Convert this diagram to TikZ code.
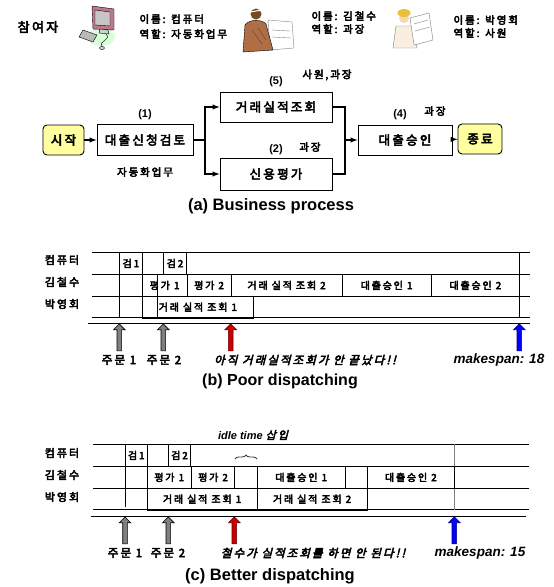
\documentclass[tikz,border=0pt]{standalone}
\usepackage{fontspec}
\setmainfont{Liberation Sans}
\newfontfamily\kr{Noto Sans CJK KR}[LetterSpace=18,
  BoldFont={Noto Sans CJK KR}, BoldFeatures={FakeBold=4},
  ItalicFont={Noto Sans CJK KR}, ItalicFeatures={FakeSlant=0.25},
  BoldItalicFont={Noto Sans CJK KR}, BoldItalicFeatures={FakeBold=4, FakeSlant=0.25}]
\usepackage{tikz}
\usetikzlibrary{calc}
\usetikzlibrary{shapes}
\usetikzlibrary{arrows}
\usetikzlibrary{fit,positioning}
\usetikzlibrary{decorations.pathreplacing}

\definecolor{termfill}{RGB}{255,255,160}
\definecolor{monitor}{RGB}{190,120,140}
\definecolor{suit}{RGB}{176,110,70}
\definecolor{skin}{RGB}{245,215,180}
\definecolor{hardhat}{RGB}{235,190,60}

\begin{document}
\begin{tikzpicture}[x=1pt,y=-1pt]
  \tikzstyle{proc}=[rectangle, draw=black, line width=0.9pt, fill=white, inner sep=0pt, font=\kr\bfseries\fontsize{12.5}{14}\selectfont]
  \tikzstyle{term}=[proc, rounded corners=4pt, fill=termfill]
  \tikzstyle{connect}=[-latex, line width=1.4pt]
  \tikzstyle{wire}=[line width=1.4pt]
  \tikzstyle{tag}=[font=\bfseries\fontsize{11}{13}\selectfont]
  \tikzstyle{role}=[font=\kr\bfseries\fontsize{10.5}{12}\selectfont]
  \tikzstyle{who}=[anchor=west, font=\kr\bfseries\fontsize{10.5}{12}\selectfont]
  \tikzstyle{row}=[font=\kr\bfseries\fontsize{11}{13}\selectfont]
  \tikzstyle{cell}=[rectangle, draw=black, line width=0.8pt, inner sep=0pt, anchor=north west, minimum height=22pt, font=\kr\bfseries\fontsize{10}{12}\selectfont]
  \tikzstyle{grid}=[line width=0.8pt]
  \tikzstyle{blockarrow}=[single arrow, shape border rotate=90, draw, line width=0.6pt, minimum height=27pt, minimum width=11pt, inner sep=2pt, single arrow head extend=3.5pt, anchor=tip]
  \tikzstyle{order}=[font=\kr\bfseries\fontsize{11.5}{13}\selectfont]
  \tikzstyle{note}=[font=\kr\bfseries\itshape\fontsize{11.5}{13}\selectfont]
  \tikzstyle{span}=[font=\bfseries\itshape\fontsize{13.5}{15}\selectfont]
  \tikzstyle{caption}=[font=\bfseries\fontsize{16}{18}\selectfont]

  \fill[white] (0,0) rectangle (554,587);
  \useasboundingbox (0,0) rectangle (554,587);

  % participants
  \node[font=\kr\bfseries\fontsize{13}{15}\selectfont] (who) at (38,27) {참여자};

  % computer
  \fill[green!15] (101,37) ellipse (14pt and 9pt);
  \draw[fill=gray!55] (83,30) -- (97,35) -- (93,42) -- (79,37) -- cycle;
  \draw[fill=monitor] (92,6) -- (114,9) -- (114,30) -- (93,29) -- cycle;
  \draw[fill=gray!45] (95,10) -- (110,12) -- (110,26) -- (95,25) -- cycle;
  \draw[fill=gray!35] (100,29) -- (108,30) -- (109,34) -- (99,33) -- cycle;
  \draw (106,34) .. controls (112,40) and (98,41) .. (102,46);
  \draw[fill=gray!30] (102,48) ellipse (2.5pt and 1.5pt);
  \node[who] (pcname) at (136,19) {이름: 컴퓨터};
  \node[who] (pcrole) at (136,34) {역할: 자동화업무};

  % manager
  \draw[fill=white, draw=gray] (268,20) -- (292,22) -- (294,48) -- (270,50) -- cycle;
  \draw[gray] (272,30) -- (290,31) (272,37) -- (291,38);
  \draw[fill=suit] (245,25) .. controls (249,19) and (262,19) .. (266,24) -- (273,50) -- (243,52) -- cycle;
  \fill[brown!60!black] (256,14) circle (5.5pt);
  \draw[white, line width=1pt] (250,12) -- (262,10);
  \draw[brown!50!black] (252,30) -- (262,44) (258,28) -- (266,40);
  \node[who] (mgrname) at (308,16) {이름: 김철수};
  \node[who] (mgrrole) at (308,29) {역할: 과장};

  % clerk
  \draw[fill={rgb,255:red,250;green,238;blue,225}, draw=gray] (396,26) -- (414,26) -- (417,48) -- (393,48) -- cycle;
  \draw[fill=white, draw=gray] (410,18) -- (429,13) -- (433,40) -- (414,45) -- cycle;
  \draw[gray] (414,24) -- (428,20) (415,31) -- (430,27);
  \fill[skin] (404,18) circle (5pt);
  \fill[hardhat] (404,13) ellipse (6.5pt and 4pt);
  \node[who] (clkname) at (450,20) {이름: 박영회};
  \node[who] (clkrole) at (450,33) {역할: 사원};

  % business process
  \node[term, minimum width=41pt, minimum height=30pt] (start) at (63.5,140) {시작};
  \node[proc, minimum width=96pt, minimum height=31pt] (check) at (145,140) {대출신청검토};
  \node[proc, minimum width=112pt, minimum height=30pt] (perf) at (276,107) {거래실적조회};
  \node[proc, minimum width=112pt, minimum height=32pt] (credit) at (276,174) {신용평가};
  \node[proc, minimum width=94pt, minimum height=30pt] (approve) at (405,140) {대출승인};
  \node[term, minimum width=44pt, minimum height=30pt] (finish) at (480,139) {종료};
  \coordinate (split) at (205,140);
  \coordinate (merge) at (345,140);

  \node[tag] (t1) [above=1pt of check] {(1)};
  \node[tag] (t5) [above=1pt of perf] {(5)};
  \node[tag] (t2) [above=-1pt of credit] {(2)};
  \node[tag] (t4) [above=1pt of approve, xshift=-5pt] {(4)};
  \node[role] (r1) at (145,172) {자동화업무};
  \node[role] (r5) at (327,75) {사원,과장};
  \node[role] (r2) at (310,147) {과장};
  \node[role] (r4) at (435,111) {과장};

  \path (start) edge [connect] (check)
        (approve) edge [connect] (finish);
  \draw[wire] (check.east) -- (split);
  \draw[connect] (split) |- (perf.west);
  \draw[connect] (split) |- (credit.west);
  \draw[wire] (perf.east) -| (merge);
  \draw[wire] (credit.east) -| (merge);
  \draw[connect] (merge) -- (approve.west);

  \node[caption, font=\bfseries\fontsize{16.5}{18}\selectfont] (capa) at (271,206) {(a) Business process};

  % poor dispatching
  \node[row] (pcb) at (62,260) {컴퓨터};
  \node[row] (mgrb) at (62,282) {김철수};
  \node[row] (clkb) at (62,304) {박영회};
  \draw[grid] (92,252) -- (530,252) (92,274) -- (530,274) (92,296) -- (530,296) (92,317.5) -- (530,317.5);
  \draw[grid] (88,323) -- (530,323);
  \draw[grid] (119.3,252) -- (119.3,317.5);
  \draw[grid] (157.3,274) -- (157.3,317.5);
  \draw[grid] (519.3,252) -- (519.3,317.5);
  \node[cell, minimum width=22.4pt] (b11) at (119.3,252) {검1};
  \node[cell, minimum width=22.7pt] (b12) at (163.3,252) {검2};
  \node[cell, minimum width=45pt] (b21) at (141.7,274) {평가 1};
  \node[cell, minimum width=44pt] (b22) at (186.7,274) {평가 2};
  \node[cell, minimum width=111pt] (b23) at (230.7,274) {거래 실적 조회 2};
  \node[cell, minimum width=89pt] (b24) at (341.7,274) {대출승인 1};
  \node[cell, minimum width=88.6pt] (b25) at (430.7,274) {대출승인 2};
  \node[cell, minimum width=111.6pt, minimum height=21.5pt] (b31) at (141.7,296) {거래 실적 조회 1};

  \node[blockarrow, fill=gray] (ob1) at (119.3,323.5) {};
  \node[blockarrow, fill=gray] (ob2) at (163.3,323.5) {};
  \node[blockarrow, fill=red!80!black, draw=red!40!black] (wb) at (230.7,323.5) {};
  \node[blockarrow, fill=blue, draw=blue!50!black] (mb) at (519.3,323.5) {};
  \node[order] (ob1l) at (119,360) {주문 1};
  \node[order] (ob2l) at (164,360) {주문 2};
  \node[note] (wbl) at (305,360) {아직 거래실적조회가 안 끝났다!!};
  \node[span] (mbl) at (499,360) {makespan: 18};
  \node[caption] (capb) at (280,381) {(b) Poor dispatching};

  % better dispatching
  \node[font=\bfseries\itshape\fontsize{11}{13}\selectfont] (idle) at (253,435) {idle time {\kr 삽입}};
  \node[row] (pcc) at (62,453) {컴퓨터};
  \node[row] (mgrc) at (62,475) {김철수};
  \node[row] (clkc) at (62,497) {박영회};
  \draw[grid] (93,444) -- (529,444) (93,466) -- (529,466) (93,488) -- (529,488) (93,509.5) -- (529,509.5);
  \draw[grid] (91,516) -- (526,516);
  \draw[grid] (125,444) -- (125,507);
  \draw[grid, gray] (454.3,444) -- (454.3,509.5);
  \node[cell, minimum width=21.7pt] (c11) at (125,444) {검1};
  \node[cell, minimum width=21.7pt] (c12) at (168.3,444) {검2};
  \node[cell, minimum width=44.3pt] (c21) at (146.7,466) {평가 1};
  \node[cell, minimum width=43.3pt] (c22) at (191,466) {평가 2};
  \node[cell, minimum width=22.4pt] (c23) at (234.3,466) {};
  \node[cell, minimum width=88.3pt] (c24) at (256.7,466) {대출승인 1};
  \node[cell, minimum width=21.7pt] (c25) at (345,466) {};
  \node[cell, minimum width=87.6pt] (c26) at (366.7,466) {대출승인 2};
  \node[cell, minimum width=110pt, minimum height=21.5pt] (c31) at (146.7,488) {거래 실적 조회 1};
  \node[cell, minimum width=110pt, minimum height=21.5pt] (c32) at (256.7,488) {거래 실적 조회 2};
  \coordinate (idleL) at (235,459);
  \coordinate (idleR) at (257,459);
  \draw[black!75, line width=0.9pt, decorate, decoration={brace, amplitude=4pt}] (idleL) -- (idleR);

  \node[blockarrow, fill=gray] (oc1) at (125,516.5) {};
  \node[blockarrow, fill=gray] (oc2) at (168.3,516.5) {};
  \node[blockarrow, fill=red!80!black, draw=red!40!black] (wc) at (234.3,516.5) {};
  \node[blockarrow, fill=blue, draw=blue!50!black] (mc) at (454.3,516.5) {};
  \node[order] (oc1l) at (125,553) {주문 1};
  \node[order] (oc2l) at (168,553) {주문 2};
  \node[note] (wcl) at (313,553) {철수가 실적조회를 하면 안 된다!!};
  \node[span] (mcl) at (480,553) {makespan: 15};
  \node[caption, font=\bfseries\fontsize{16.5}{18}\selectfont] (capc) at (270,576) {(c) Better dispatching};
\end{tikzpicture}
\end{document}
